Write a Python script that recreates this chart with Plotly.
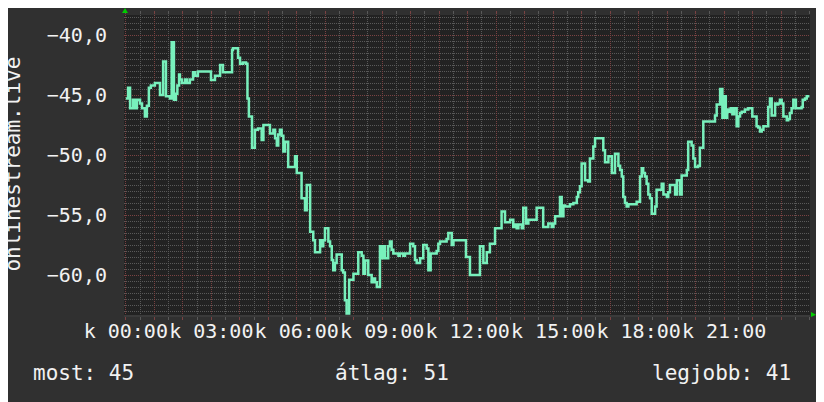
import plotly.graph_objects as go

# time of day (hours) and measured values
hours = [0.00, 0.08, 0.15, 0.25, 0.32, 0.39, 0.50, 0.57, 0.67, 0.74, 0.81, 0.88, 1.02, 1.20, 1.31, 1.41,
         1.55, 1.61, 1.69, 1.76, 1.81, 1.87, 1.90, 1.97, 2.08, 2.15, 2.25, 2.36, 2.43, 2.53, 2.99, 3.13,
         3.31, 3.41, 3.73, 3.76, 3.94, 4.01, 4.11, 4.22, 4.27, 4.32, 4.43, 4.53, 4.64, 4.77, 4.83, 5.06,
         5.18, 5.24, 5.30, 5.35, 5.41, 5.47, 5.53, 5.59, 5.70, 5.94, 6.00, 6.17, 6.29, 6.35, 6.47, 6.58,
         6.64, 6.82, 6.88, 6.93, 6.99, 7.11, 7.17, 7.23, 7.28, 7.34, 7.40, 7.58, 7.63, 7.69, 7.75, 7.84,
         7.99, 8.16, 8.28, 8.34, 8.40, 8.51, 8.63, 8.69, 8.75, 8.81, 8.92, 8.98, 9.04, 9.10, 9.21, 9.27,
         9.33, 9.39, 9.57, 9.62, 9.74, 9.80, 9.98, 10.09, 10.15, 10.21, 10.33, 10.44, 10.56, 10.62, 10.70,
         10.91, 10.97, 11.03, 11.26, 11.32, 11.44, 11.50, 11.94, 12.08, 12.43, 12.55, 12.67, 12.78, 12.96,
         13.19, 13.31, 13.49, 13.60, 13.66, 13.72, 13.78, 13.90, 13.95, 14.05, 14.13, 14.42, 14.65, 14.83,
         14.95, 15.01, 15.07, 15.24, 15.30, 15.36, 15.42, 15.59, 15.71, 15.83, 15.88, 15.94, 16.00, 16.12,
         16.23, 16.29, 16.41, 16.47, 16.76, 16.82, 16.94, 17.06, 17.17, 17.29, 17.35, 17.41, 17.46, 17.52,
         17.58, 17.64, 17.93, 18.05, 18.11, 18.16, 18.22, 18.28, 18.34, 18.40, 18.46, 18.58, 18.63, 18.81,
         18.87, 18.99, 19.04, 19.10, 19.28, 19.34, 19.45, 19.51, 19.69, 19.74, 19.86, 19.92, 19.98, 20.09,
         20.15, 20.27, 20.68, 20.74, 20.86, 20.94, 21.00, 21.06, 21.11, 21.17, 21.23, 21.29, 21.35, 21.44,
         21.50, 21.56, 21.62, 21.73, 21.85, 21.99, 22.14, 22.20, 22.26, 22.32, 22.38, 22.55, 22.61, 22.67,
         22.79, 22.85, 22.90, 22.96, 23.02, 23.08, 23.20, 23.25, 23.31, 23.37, 23.43, 23.52, 23.72, 23.76,
         23.84, 23.90, 23.95]
values = [-45.3, -44.4, -46.1, -45.4, -46.1, -45.4, -45.7, -46.1, -46.8, -45.9, -44.4, -44.2, -44.0, -45.0,
          -42.2, -45.1, -45.3, -40.6, -45.4, -44.9, -44.2, -43.3, -43.7, -44.0, -43.7, -44.0, -43.7, -43.1,
          -43.4, -43.05, -43.75, -43.4, -42.5, -43.1, -41.25, -41.1, -41.9, -42.4, -42.3, -42.4, -45.3, -46.8,
          -49.4, -47.9, -47.8, -48.75, -47.5, -48.2, -47.9, -48.6, -49.2, -48.3, -47.9, -48.4, -49.7, -48.9,
          -51.0, -50.1, -51.5, -53.6, -54.6, -52.5, -56.4, -57.1, -58.1, -57.1, -57.6, -57.1, -56.1, -57.2,
          -57.6, -58.75, -59.6, -59.0, -58.3, -59.6, -59.8, -62.1, -63.2, -60.4, -59.9, -58.1, -58.4, -59.9,
          -58.8, -60.0, -60.6, -60.3, -60.6, -61.0, -57.6, -58.6, -57.6, -58.6, -57.6, -57.2, -57.9, -58.2,
          -58.4, -58.2, -58.4, -58.2, -57.4, -57.6, -58.75, -59.0, -58.6, -57.5, -57.8, -59.6, -58.2, -58.0,
          -57.4, -57.2, -57.0, -56.5, -57.5, -57.1, -58.5, -60.0, -57.6, -59.0, -58.1, -57.4, -56.1, -54.7,
          -55.6, -55.4, -56.0, -55.8, -56.1, -55.8, -56.1, -54.4, -55.7, -55.4, -54.4, -56.0, -55.7, -56.0,
          -55.7, -55.1, -53.5, -55.1, -54.2, -54.3, -54.1, -54.0, -53.5, -53.1, -52.6, -50.7, -52.1, -52.2,
          -50.3, -49.3, -48.6, -49.6, -50.6, -50.1, -51.5, -49.9, -50.9, -51.25, -51.8, -53.5, -54.0, -54.3,
          -54.1, -53.9, -51.8, -51.1, -51.5, -51.8, -52.4, -53.3, -53.6, -54.9, -54.3, -52.9, -52.4, -53.3,
          -53.5, -53.1, -52.5, -53.3, -52.1, -53.3, -51.7, -51.25, -48.9, -49.2, -50.3, -51.0, -50.9, -49.4,
          -47.2, -46.7, -45.8, -44.5, -46.9, -45.1, -46.9, -46.2, -46.4, -46.1, -46.6, -46.1, -47.6, -46.8,
          -46.5, -46.4, -46.2, -46.1, -46.8, -47.6, -47.7, -48.05, -47.9, -47.6, -46.0, -45.3, -46.7, -45.7,
          -45.8, -45.7, -45.4, -45.7, -46.8, -47.1, -47.0, -46.5, -46.1, -45.4, -46.1, -46.0, -45.4, -45.3,
          -45.1, -45.0]

hour_ticks = list(range(24))
hour_labels = ["k %02d:00" % h if h % 3 == 0 else "" for h in hour_ticks]
y_ticks = [-60, -55, -50, -45, -40]
series_name = "onlinestream.live"
summary = [("most", 45), ("átlag", 51), ("legjobb", 41)]

FONT = "DejaVu Sans Mono"
TXT = "#f2f2f2"
BG = "#303030"
PLOT_BG = "#222222"
MAJOR = "#7a4242"
MINOR = "#595959"
LINE = "#78f0bc"

fig = go.Figure()
fig.add_trace(go.Scatter(x=hours, y=values, mode="lines", line=dict(color=LINE, width=2.5, shape="hv"),
                         hoverinfo="skip", showlegend=False))
# invisible trace for top tick axis
fig.add_trace(go.Scatter(x=[hours[0]], y=[values[0]], xaxis="x2", mode="markers",
                         marker=dict(opacity=0), hoverinfo="skip", showlegend=False))

xr = [-0.063, 24.015]
# page body adds an 8px offset, so the figure is 8px smaller and margins shifted
fig.update_layout(
    width=816, height=394,
    margin=dict(l=116, r=14, t=7, b=87),
    paper_bgcolor=BG, plot_bgcolor=PLOT_BG,
    separators=", ",
    font=dict(family=FONT, color=TXT, size=20),
    xaxis=dict(range=xr, tickmode="array", tickvals=hour_ticks, ticktext=hour_labels, tickangle=0,
               automargin=False, ticklabelstandoff=-6,
               showgrid=True, gridcolor=MAJOR, griddash="1px,1px", gridwidth=1,
               ticks="outside", ticklen=3, tickcolor=MAJOR,
               minor=dict(tickmode="linear", tick0=0, dtick=0.5, showgrid=True, gridcolor=MINOR,
                          griddash="1px,1px", ticks="outside", ticklen=3, tickcolor=MINOR),
               zeroline=False, showline=True, linecolor="#3a3a3a", linewidth=2,
               tickfont=dict(family=FONT, size=20, color=TXT), fixedrange=True),
    xaxis2=dict(range=xr, overlaying="x", side="top", tickmode="array", tickvals=hour_ticks,
                automargin=False,
                showticklabels=False, showgrid=False, ticks="outside", ticklen=3, tickcolor=MAJOR,
                minor=dict(tickmode="linear", tick0=0, dtick=0.5, ticks="outside", ticklen=3,
                           tickcolor=MINOR, showgrid=False),
                zeroline=False, showline=False),
    yaxis=dict(range=[-63.333, -38.333], tickmode="array", tickvals=y_ticks, tickformat=".1f",
               automargin=False,
               showgrid=True, gridcolor=MAJOR, griddash="1px,1px", gridwidth=1,
               minor=dict(tickmode="linear", tick0=-40, dtick=0.5, showgrid=True, gridcolor=MINOR,
                          griddash="1px,1px"),
               zeroline=False, showline=False, ticks="", ticklabelstandoff=16,
               tickfont=dict(family=FONT, size=20, color=TXT), fixedrange=True),
)

# y-axis title
fig.add_annotation(text=series_name, textangle=-90, xref="paper", yref="paper",
                   x=(13.5 - 124) / 686, y=0.503, xanchor="center", yanchor="middle",
                   showarrow=False, font=dict(family=FONT, size=21, color=TXT))

# summary legend line
pos = [((31 - 124) / 686, "left"), ((333 - 124) / 686, "left"), ((793 - 124) / 686, "right")]
for (lab, val), (px, anc) in zip(summary, pos):
    fig.add_annotation(text=f"{lab}: {val}", xref="paper", yref="paper", x=px, y=-0.193,
                       xanchor=anc, yanchor="middle", showarrow=False,
                       font=dict(family=FONT, size=21, color=TXT))

# axis arrows
fig.add_shape(type="path", xref="x domain", yref="y domain",
              path="M -0.0029 1.0067 L 0.0058 1.0067 L 0.0015 1.0233 Z",
              fillcolor="#00cc00", line=dict(width=0))
fig.add_shape(type="path", xref="x domain", yref="y domain",
              path="M 1.0015 0.0100 L 1.0015 -0.0067 L 1.0088 0.0010 Z",
              fillcolor="#00cc00", line=dict(width=0))

fig.write_html("out.html")
